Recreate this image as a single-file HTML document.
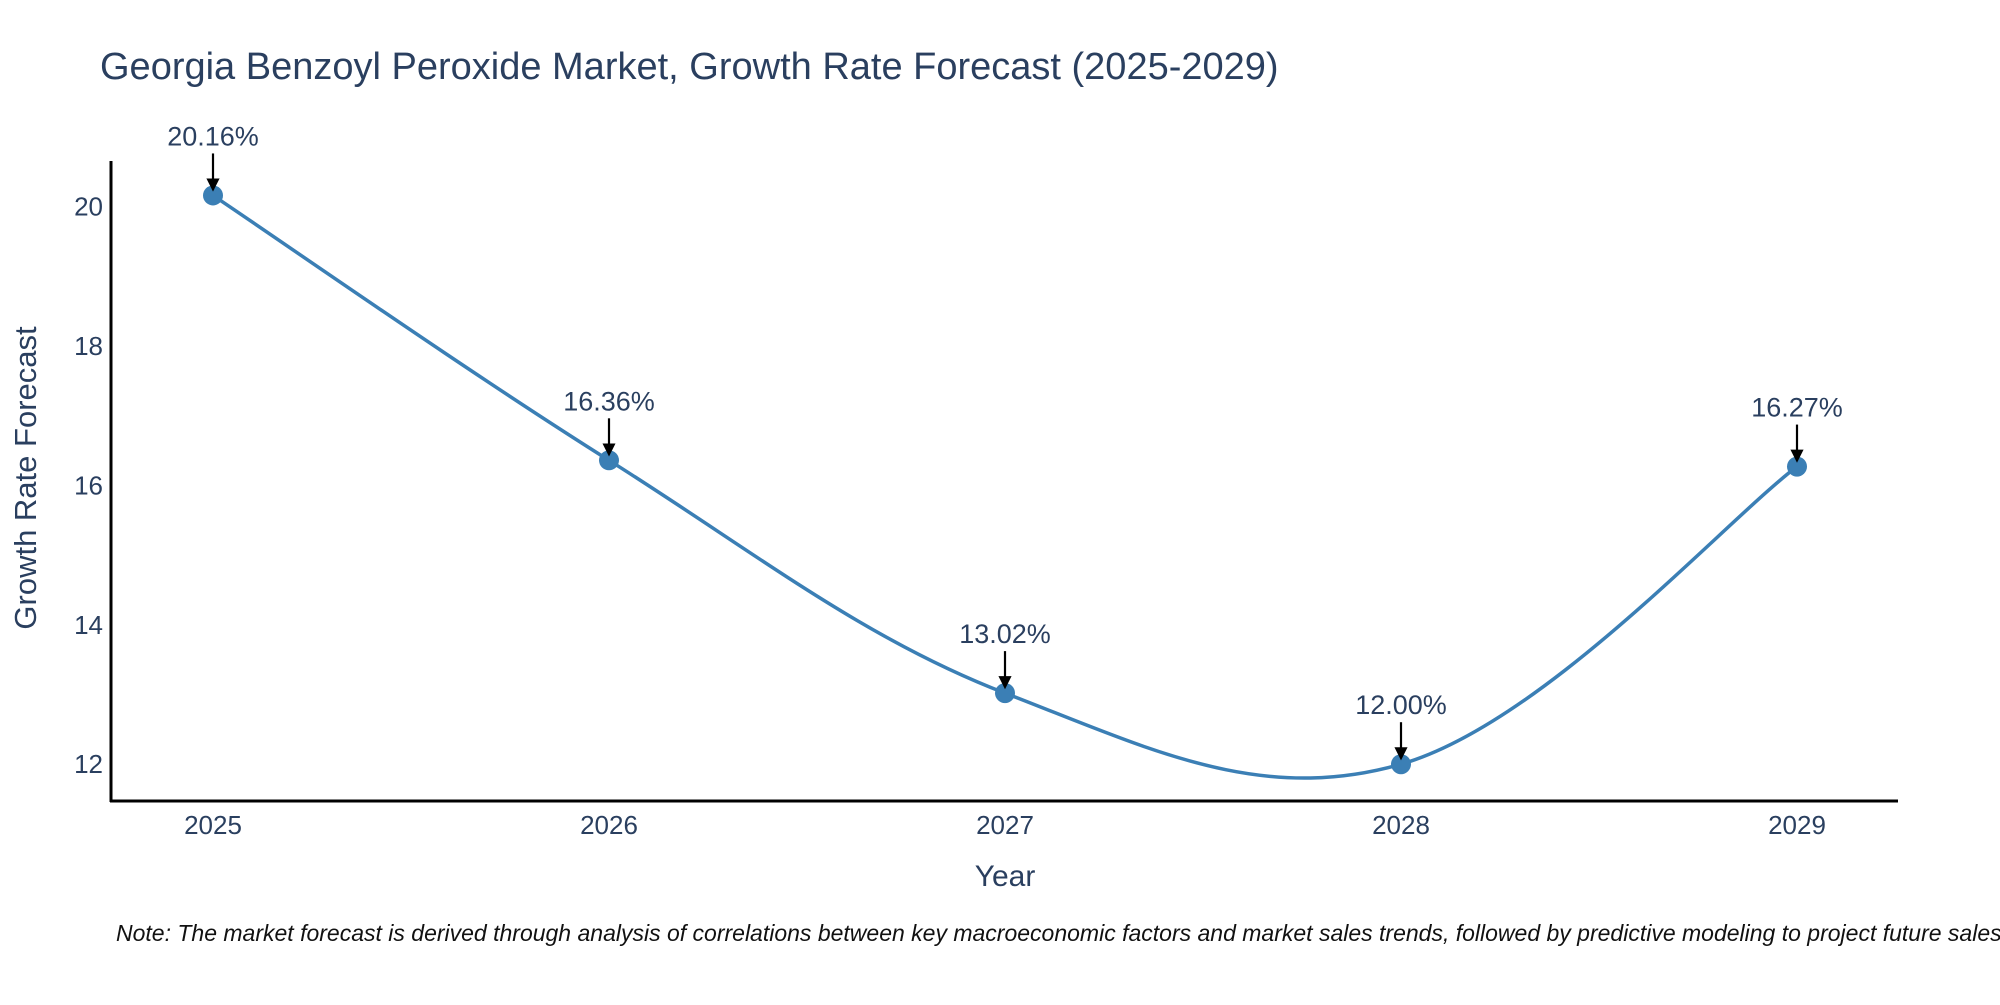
<!DOCTYPE html>
<html><head><meta charset="utf-8"><style>
body{margin:0;background:#fff;}
svg text{font-family:"Liberation Sans","DejaVu Sans",sans-serif;fill:#2a3f5f;}
</style></head><body>
<svg id="chart" width="2000" height="1000">
<text x="100" y="79" font-size="38">Georgia Benzoyl Peroxide Market, Growth Rate Forecast (2025-2029)</text>
<text transform="translate(36,478) rotate(-90)" text-anchor="middle" font-size="31">Growth Rate Forecast</text>
<text x="1005" y="886" text-anchor="middle" font-size="30">Year</text>
<text x="116" y="941" font-size="23" font-style="italic" style="fill:#111">Note: The market forecast is derived through analysis of correlations between key macroeconomic factors and market sales trends, followed by predictive modeling to project future sales.</text>
<g id="plot"></g>
</svg>
<script>
const years = [2025, 2026, 2027, 2028, 2029];
const rates = [20.16, 16.36, 13.02, 12.00, 16.27];
const labels = ["20.16%", "16.36%", "13.02%", "12.00%", "16.27%"];
const yTicks = [12, 14, 16, 18, 20];
const NS = "http://www.w3.org/2000/svg";
const g = document.getElementById("plot");
function xs(v){ return 213 + (v - 2025) * 396; }
function ys(v){ return 206.6 + (20 - v) * 69.7; }
function mk(t, a){ const e = document.createElementNS(NS, t); for (const k in a) e.setAttribute(k, a[k]); g.appendChild(e); return e; }
let ax = mk("line", {x1:111, y1:161, x2:111, y2:802, stroke:"#000", "stroke-width":3});


ax = mk("line", {x1:110, y1:801, x2:1898, y2:801, stroke:"#000", "stroke-width":3});


yTicks.forEach(t => {
  const e = mk("text", {x:103, y:ys(t) + 9, "text-anchor":"end", "font-size":26});
  e.textContent = t;
  
  
});
years.forEach(y => {
  const e = mk("text", {x:xs(y), y:834, "text-anchor":"middle", "font-size":26});
  e.textContent = y;
  
  
});
const P = years.map((y, i) => [xs(y), ys(rates[i])]);
let d = "M" + P[0][0] + "," + P[0][1];
const s = 0.18;
for (let i = 0; i < P.length - 1; i++) {
  const p0 = P[Math.max(i - 1, 0)], p1 = P[i], p2 = P[i + 1], p3 = P[Math.min(i + 2, P.length - 1)];
  const c1 = [p1[0] + (p2[0] - p0[0]) * s, p1[1] + (p2[1] - p0[1]) * s];
  const c2 = [p2[0] - (p3[0] - p1[0]) * s, p2[1] - (p3[1] - p1[1]) * s];
  d += " C" + c1 + " " + c2 + " " + p2;
}
const line = mk("path", {d:d, fill:"none", stroke:"#3b7fb5", "stroke-width":3.5});


const defs = mk("defs", {});
defs.innerHTML = '<marker id="ah" markerWidth="6" markerHeight="6" refX="5" refY="3" orient="auto" markerUnits="strokeWidth"><path d="M0,0 L6,3 L0,6 z" fill="#000"/></marker>';
P.forEach((p, i) => {
  const c = mk("circle", {cx:p[0], cy:p[1], r:10, fill:"#3b7fb5"});
  
  
  const a = mk("line", {x1:p[0], y1:p[1] - 42, x2:p[0], y2:p[1] - 6, stroke:"#000", "stroke-width":2.2, "marker-end":"url(#ah)"});
  
  
  const t = mk("text", {x:p[0], y:p[1] - 50, "text-anchor":"middle", "font-size":27});
  t.textContent = labels[i];
  
  
});
</script>
</body></html>
